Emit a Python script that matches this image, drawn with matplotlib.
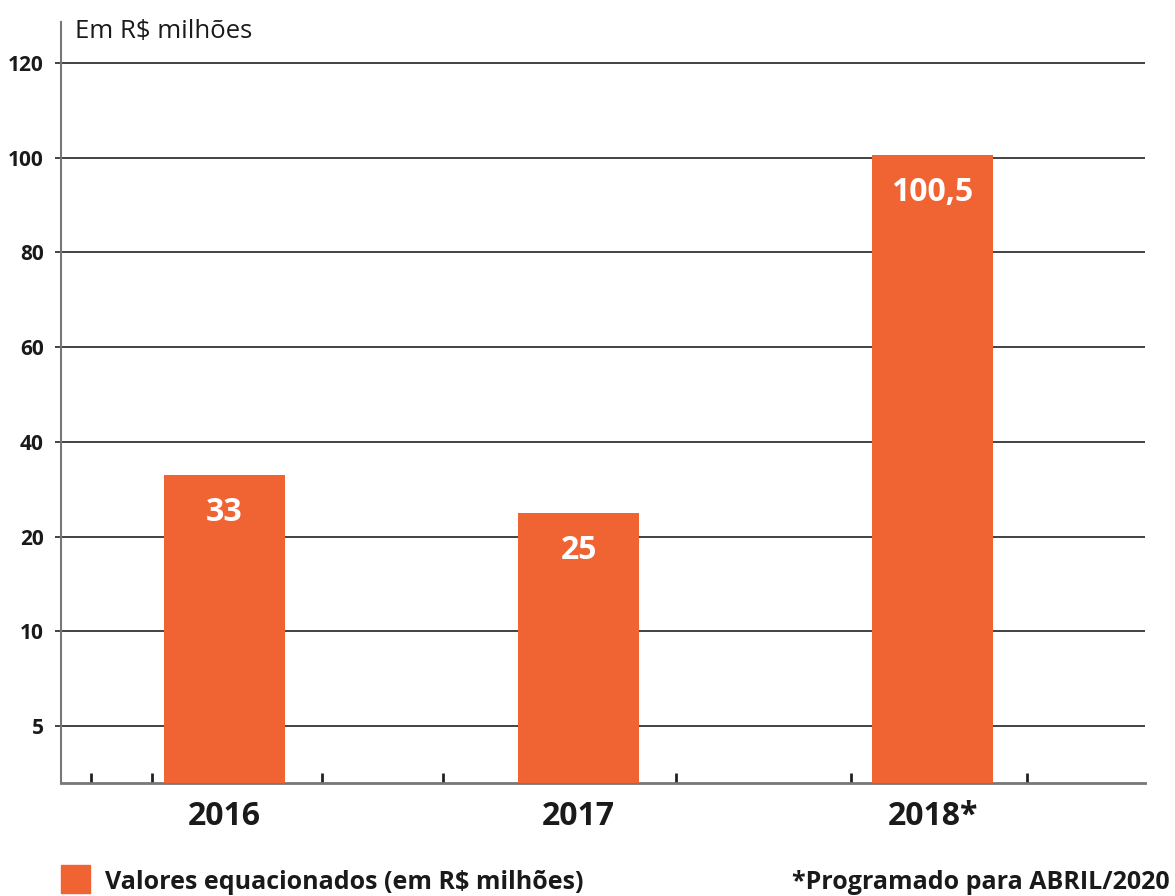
import matplotlib.pyplot as plt
import numpy as np

plt.rcParams['font.family'] = ['Open Sans', 'DejaVu Sans']

# dados
anos = ['2016', '2017', '2018*']
valores = [33, 25, 100.5]
rotulos = ['33', '25', '100,5']
y_ticks = [5, 10, 20, 40, 60, 80, 100, 120]

# escala do eixo y: marcas igualmente espaçadas, como no original
escala_val = [0, 5, 10, 20, 40, 60, 80, 100, 120, 140]
escala_pos = [0, 0.6, 1.6, 2.6, 3.6, 4.6, 5.6, 6.6, 7.6, 8.6]


def fwd(v):
    return np.interp(v, escala_val, escala_pos)


def inv(p):
    return np.interp(p, escala_pos, escala_val)


laranja = '#F06433'
texto = '#1a1a1a'

fig = plt.figure(figsize=(11.75, 8.96), dpi=100)
ax = fig.add_axes([61 / 1175, 1 - 783 / 896, (1145 - 61) / 1175, (783 - 22) / 896])
ax.set_yscale('function', functions=(fwd, inv))

x = np.arange(len(anos))
bars = ax.bar(x, valores, width=0.342, color=laranja, zorder=3)

for b, r in zip(bars, rotulos):
    ax.annotate(r, (b.get_x() + b.get_width() / 2, b.get_height()),
                xytext=(0, -27), textcoords='offset points',
                ha='center', va='center', color='white',
                fontsize=23, fontweight='bold', zorder=4)

ax.set_ylim(0, 128.6)
ax.set_xlim(-0.462, 2.60)

ax.set_yticks(y_ticks)
ax.set_yticklabels([str(t) for t in y_ticks], fontsize=15, fontweight='bold', color=texto)
ax.yaxis.grid(True, color='#222222', linewidth=1.2)
ax.set_axisbelow(True)
ax.tick_params(axis='y', length=4.5, width=1.2, color='#222222', pad=8)

ax.set_xticks(x)
ax.set_xticklabels(anos, fontsize=23, fontweight='bold', color=texto)
ax.tick_params(axis='x', which='major', length=0, pad=12)
ax.set_xticks([-0.378, -0.205, 0.275, 0.617, 1.275, 1.770, 2.267], minor=True)
ax.tick_params(axis='x', which='minor', direction='in', length=7, width=2, color='#222222')

for s in ['top', 'right']:
    ax.spines[s].set_visible(False)
ax.spines['left'].set_color('#777777')
ax.spines['left'].set_linewidth(1.5)
ax.spines['bottom'].set_color('#777777')
ax.spines['bottom'].set_linewidth(2)

fig.text(75 / 1175, 1 - 38 / 896, 'Em R$ milhões', fontsize=18.5, color=texto, va='baseline')

# legenda
fig.patches.append(plt.Rectangle((61 / 1175, 1 - 893 / 896), 29 / 1175, 28 / 896,
                                 transform=fig.transFigure, color=laranja))
fig.text(105 / 1175, 1 - 889 / 896, 'Valores equacionados (em R$ milhões)',
         fontsize=18, fontweight='bold', color=texto, va='baseline')
fig.text(1170 / 1175, 1 - 889 / 896, '*Programado para ABRIL/2020',
         fontsize=18, fontweight='bold', color=texto, va='baseline', ha='right')

fig.savefig('out.png', dpi=100)
